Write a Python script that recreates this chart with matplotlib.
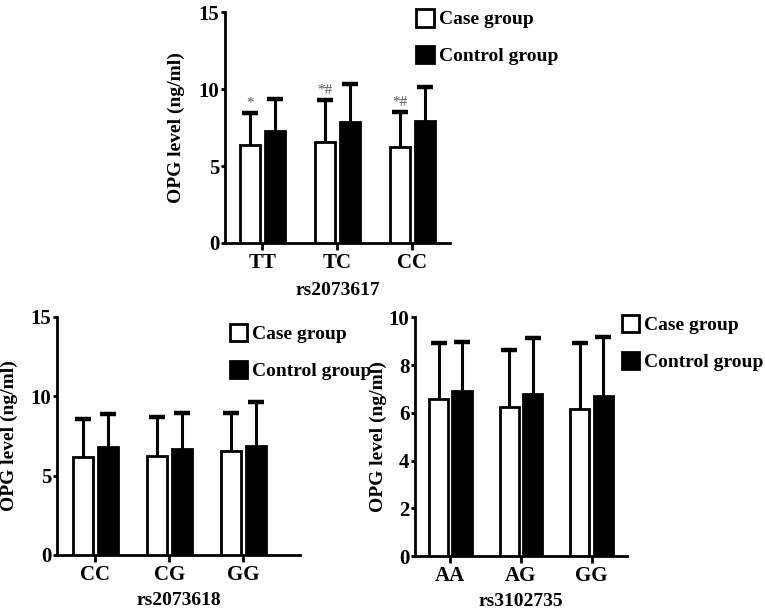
import numpy as np
import matplotlib
matplotlib.use("Agg")
from matplotlib import pyplot as plt
from matplotlib.patches import Patch

# rs2073617 panel
top_genotypes = ["TT", "TC", "CC"]
top_case = [6.35, 6.58, 6.25]
top_case_err = [2.09, 2.71, 2.24]
top_ctrl = [7.27, 7.88, 7.94]
top_ctrl_err = [2.06, 2.44, 2.21]
top_marks = ["*", "*#", "*#"]

# rs2073618 panel
left_genotypes = ["CC", "CG", "GG"]
left_case = [6.19, 6.24, 6.57]
left_case_err = [2.38, 2.44, 2.36]
left_ctrl = [6.79, 6.68, 6.89]
left_ctrl_err = [2.07, 2.25, 2.77]

# rs3102735 panel
right_genotypes = ["AA", "AG", "GG"]
right_case = [6.57, 6.25, 6.15]
right_case_err = [2.34, 2.38, 2.76]
right_ctrl = [6.91, 6.78, 6.70]
right_ctrl_err = [2.07, 2.34, 2.48]

plt.rcParams['font.family'] = ['Liberation Serif', 'DejaVu Serif']
plt.rcParams['font.weight'] = 'bold'


def upper_err(ax, xs, vals, errs):
    # GraphPad style: only the upper whisker with a cap
    tops = np.array(vals) + np.array(errs)
    ax.vlines(xs, vals, tops, color='black', linewidth=2.2, zorder=2)
    ax.plot(xs, tops, linestyle='none', marker='_', markersize=11,
            markeredgewidth=3.2, color='black', zorder=2)


def panel(fig, rect, genos, case, case_err, ctrl, ctrl_err, snp,
          ylim, yticks, xlim, legend_xy, ylab_x, xlab_pad, marks=None):
    ax = fig.add_axes(rect)
    x = np.arange(len(genos))
    w = 0.27
    off = 0.165
    ax.bar(x - off, case, w, color='white', edgecolor='black', linewidth=2,
           zorder=3)
    ax.bar(x + off, ctrl, w, color='black', edgecolor='black', linewidth=2,
           zorder=3)
    upper_err(ax, x - off, case, case_err)
    upper_err(ax, x + off, ctrl, ctrl_err)
    if marks is not None:
        for xi, v, e, m in zip(x - off, case, case_err, marks):
            ax.text(xi, v + e + 0.2, m, ha='center', va='bottom',
                    fontsize=11, color='#555555', fontweight='normal')
    ax.set_xlim(*xlim)
    ax.set_ylim(*ylim)
    ax.set_yticks(yticks)
    ax.set_xticks(x)
    ax.set_xticklabels(genos)
    for s in ['top', 'right']:
        ax.spines[s].set_visible(False)
    for s in ['left', 'bottom']:
        ax.spines[s].set_linewidth(2)
    ax.tick_params(axis='y', width=2, length=3, pad=1, labelsize=15)
    ax.tick_params(axis='x', width=2, length=5, pad=2, labelsize=15)
    for lab in ax.get_xticklabels() + ax.get_yticklabels():
        lab.set_fontweight('bold')
    ax.set_ylabel("OPG level (ng/ml)", fontsize=14, fontweight='bold')
    ax.yaxis.set_label_coords(ylab_x, 0.5)
    ax.set_xlabel(snp, fontsize=14, fontweight='bold', labelpad=xlab_pad)
    handles = [Patch(facecolor='white', edgecolor='black', linewidth=2,
                     label='Case group'),
               Patch(facecolor='black', edgecolor='black', linewidth=2,
                     label='Control group')]
    fig.legend(handles=handles, loc='upper left',
               bbox_to_anchor=legend_xy, frameon=False,
               prop={'size': 14, 'weight': 'bold'},
               handlelength=0.9, handleheight=1.0, handletextpad=0.25,
               labelspacing=0.9, borderaxespad=0, borderpad=0)
    return ax


fig = plt.figure(figsize=(7.65, 6.09), dpi=100, facecolor='w')

panel(fig, [0.294, 0.601, 0.294, 0.379], top_genotypes, top_case,
      top_case_err, top_ctrl, top_ctrl_err, "rs2073617",
      (0, 15), [0, 5, 10, 15], (-0.5, 2.5), (0.544, 0.985),
      -0.178, 7, marks=top_marks)

panel(fig, [0.0745, 0.0887, 0.318, 0.391], left_genotypes, left_case,
      left_case_err, left_ctrl, left_ctrl_err, "rs2073618",
      (0, 15), [0, 5, 10, 15], (-0.52, 2.77), (0.30, 0.468),
      -0.16, 5)

panel(fig, [0.5425, 0.087, 0.277, 0.392], right_genotypes, right_case,
      right_case_err, right_ctrl, right_ctrl_err, "rs3102735",
      (0, 10), [0, 2, 4, 6, 8, 10], (-0.5, 2.5), (0.813, 0.483),
      -0.132, 5)

fig.savefig("out.png", dpi=100, facecolor='w', edgecolor='w')
